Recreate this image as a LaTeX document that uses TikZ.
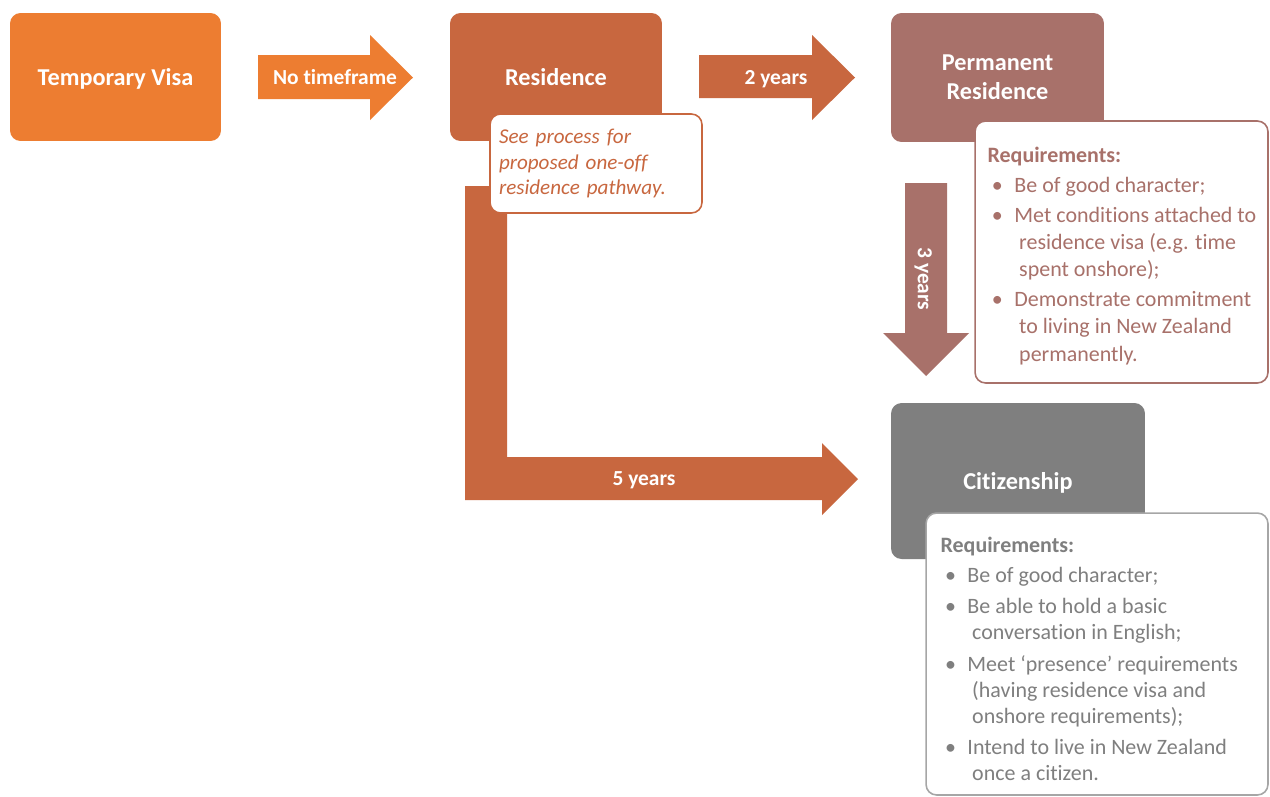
\documentclass[tikz,border=0pt]{standalone}
\usepackage{fontspec}
\setmainfont{Carlito}[Ligatures=CommonOff]
\usetikzlibrary{calc}
\definecolor{visaorange}{HTML}{ED7D31}
\definecolor{resbrown}{HTML}{C8673F}
\definecolor{permrose}{HTML}{A8716A}
\definecolor{citgray}{HTML}{7F7F7F}
\definecolor{citline}{HTML}{A6A6A6}
\def\reqbul{\hspace*{2.5pt}\makebox[12.8pt][l]{\textbullet}}
\def\reqcont{\hspace*{18pt}}
\tikzset{
	stage/.style={rounded corners=6pt, text=white, align=center, text depth=0pt,
		font=\fontsize{13.8}{16.5}\selectfont\bfseries},
	reqbox/.style={draw, fill=white, line width=0.9pt, rounded corners=6pt},
	reqtext/.style={anchor=north west, inner sep=0pt, align=left},
	barlabel/.style={text=white, text depth=0pt, font=\fontsize{12.2}{14}\selectfont\bfseries}
}

\begin{document}
\begin{tikzpicture}[x=0.02cm, y=-0.02cm]
			%%%%% START %%%%%
			\useasboundingbox (0, 0) rectangle (1270, 796);
			
			\fill[white] (0, 0) rectangle (1270, 796);
			
			\node[stage, fill=visaorange, minimum width=4.22cm, minimum height=2.56cm] (visa) at (115.5, 77) {Temporary Visa};
			\node[stage, fill=resbrown, minimum width=4.24cm, minimum height=2.56cm] (res) at (556, 77) {Residence};
			\node[stage, fill=permrose, minimum width=4.26cm, minimum height=2.58cm] (perm) at (997.5, 77.5) {Permanent\\Residence};
			\node[stage, fill=citgray, minimum width=5.08cm, minimum height=3.12cm] (cit) at (1018, 481) {Citizenship};
			
			\fill[visaorange] (258, 55) -- (370, 55) -- (370, 35) -- (413, 77.5) -- (370, 120) -- (370, 99) -- (258, 99) -- cycle;
			\node[barlabel] (notime) at (335, 77) {No timeframe};
			
			\fill[resbrown] (699, 55) -- (812, 55) -- (812, 35) -- (855, 77.5) -- (812, 120) -- (812, 98) -- (699, 98) -- cycle;
			\node[barlabel] (twoyr) at (776, 77) {2 years};
			
			\fill[permrose] (905, 183) -- (947, 183) -- (947, 333) -- (969, 333) -- (926, 376) -- (883, 333) -- (905, 333) -- cycle;
			\node[barlabel, rotate=-90] (threeyr) at (925, 279) {3 years};
			
			\fill[resbrown] (465, 186) -- (507, 186) -- (507, 457) -- (822, 457) -- (822, 443) -- (858, 479) -- (822, 515) -- (822, 500) -- (465, 500) -- cycle;
			\node[barlabel] (fiveyr) at (644, 479) {5 years};
			
			\node[reqbox, draw=resbrown, text=resbrown, text width=3.88cm, inner xsep=0.18cm, minimum height=1.98cm,
				align=left, font=\fontsize{12}{14.7}\selectfont\itshape] (note) at (596, 163.5)
				{See process for\\proposed one-off\\residence pathway.};
			
			% requirement panels
			\node[reqbox, draw=permrose, minimum width=5.86cm, minimum height=5.24cm] (permreq) at (1121.5, 252) {};
			\node[reqtext, text=permrose, font=\fontsize{12.5}{15.5}\selectfont] (permlist) at ($(permreq.north west)+(13, 26.5)$)
				{\textbf{Requirements:}\\[1.5pt]
				\reqbul Be of good character;\\[1.5pt]
				\reqbul Met conditions attached to\\
				\reqcont residence visa (e.g. time\\
				\reqcont spent onshore);\\[1.5pt]
				\reqbul Demonstrate commitment\\
				\reqcont to living in New Zealand\\
				\reqcont permanently.};
			
			\node[reqbox, draw=citline, minimum width=6.84cm, minimum height=5.64cm] (citreq) at (1097, 654) {};
			\node[reqtext, text=citgray, font=\fontsize{12.5}{14.8}\selectfont] (citlist) at ($(citreq.north west)+(15, 24.5)$)
				{\textbf{Requirements:}\\[2pt]
				\reqbul Be of good character;\\[3pt]
				\reqbul Be able to hold a basic\\
				\reqcont conversation in English;\\[3.3pt]
				\reqbul Meet ‘presence’ requirements\\
				\reqcont (having residence visa and\\
				\reqcont onshore requirements);\\[3.3pt]
				\reqbul Intend to live in New Zealand\\
				\reqcont once a citizen.};
			
			%%%%% END %%%%%
\end{tikzpicture}
\end{document}
